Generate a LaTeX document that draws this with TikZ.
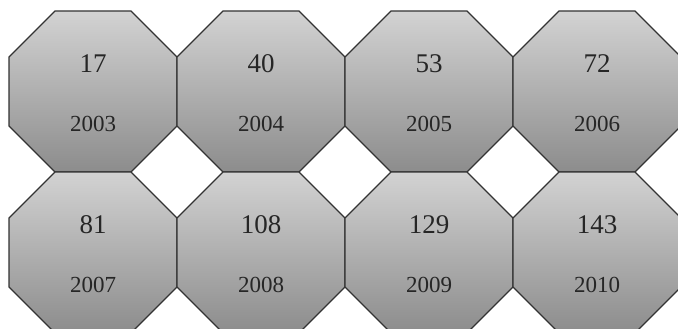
\documentclass[tikz,border=0pt]{standalone}
\usepackage{fontspec}
\setmainfont{Liberation Serif}
\tikzset{
        octa/.style = {draw=black!80, line width=1.1pt,
            top color=gray!35, bottom color=gray!90},
        value/.style = {font=\fontsize{27}{30}\selectfont, text=black!85},
        year/.style = {font=\fontsize{23}{26}\selectfont, text=black!85},
}

\begin{document}
\begin{tikzpicture}[x=1pt, y=-1pt]
\useasboundingbox (0,0) rectangle (678,329);
\clip (0,0) rectangle (678,329);
\foreach \val/\yr [count=\i from 0] in {17/2003, 40/2004, 53/2005, 72/2006,
    81/2007, 108/2008, 129/2009, 143/2010}{
  \pgfmathsetmacro{\ox}{9+168*mod(\i,4)}
  \pgfmathsetmacro{\oy}{11+161*int(\i/4)}
  \begin{scope}[shift={(\ox,\oy)}]
  \path [octa] (46,0) -- (122,0) -- (168,46) -- (168,115) -- (122,161)
      -- (46,161) -- (0,115) -- (0,46) -- cycle;
  \node [value] (val\i) at (84,53) {\val};
  \node [year] (yr\i) at (84,113) {\yr};
  \end{scope}
}
\end{tikzpicture}
\end{document}
